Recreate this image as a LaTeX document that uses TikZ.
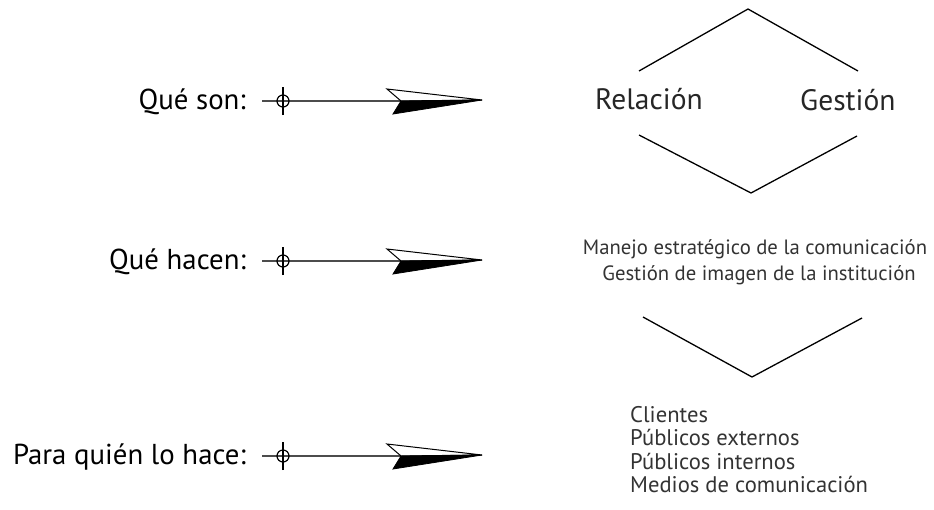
\documentclass[tikz,border=0pt]{standalone}
\usepackage{fontspec}
\setmainfont{PT Sans}
\begin{document}
\begin{tikzpicture}[x=1pt,y=-1pt,
  rowlabel/.style={font=\fontsize{28.8}{32}\selectfont, text=black, inner sep=0pt, anchor=base east},
  bigword/.style={font=\fontsize{29.5}{34}\selectfont, text=black!85, inner sep=0pt, anchor=base west},
  midtext/.style={font=\fontsize{20.7}{26}\selectfont, text=black!80, inner sep=0pt, anchor=base},
  listtext/.style={font=\fontsize{22.6}{24}\selectfont, text=black!80, inner sep=0pt, anchor=base west},
  shaft/.style={line width=2.2pt, draw=black!70},
  mark ring/.style={draw=black, line width=1.2pt},
  bracket/.style={draw=black, line width=1.3pt, line join=miter}]
\useasboundingbox (0,0) rectangle (934,509);

% row labels
\node[rowlabel] (q1) at (246,109) {Qué son:};
\node[rowlabel] (q2) at (246,269) {Qué hacen:};
\node[rowlabel] (q3) at (246,464) {Para quién lo hace:};

% arrows with a ring marker and a dart head
\foreach \r/\y in {1/101,2/261,3/456} {
  \coordinate (s\r) at (262,\y);
  \coordinate (c\r) at (283,\y);
  \coordinate (n\r) at (401,\y);
  \coordinate (t\r) at (482,\y-1);
  \coordinate (u\r) at (387,\y-12);
  \coordinate (l\r) at (393,\y+13);
  \draw[shaft] (s\r) -- (n\r);
  \draw[mark ring] (c\r) circle[radius=6pt];
  \draw[mark ring] ([yshift=-14pt]c\r) -- ([yshift=14pt]c\r);
  \filldraw[fill=white, draw=black, line width=1pt, line join=miter] (u\r) -- (t\r) -- (n\r) -- cycle;
  \filldraw[fill=black, draw=black, line width=0.8pt, line join=miter] (n\r) -- (t\r) -- (l\r) -- cycle;
}

% top group: Relación / Gestión between two chevrons
\coordinate (a1) at (639,71);
\coordinate (a2) at (748,9);
\coordinate (a3) at (858,71);
\coordinate (b1) at (639,135);
\coordinate (b2) at (751,193);
\coordinate (b3) at (857,136);
\draw[bracket] (a1) -- (a2) -- (a3);
\draw[bracket] (b1) -- (b2) -- (b3);
\node[bigword] (rel) at (595,109) {Relación};
\node[bigword] (ges) at (800,110) {Gestión};

% middle group
\node[midtext] (m1) at (755,254) {Manejo estratégico de la comunicación};
\node[midtext] (m2) at (759,280) {Gestión de imagen de la institución};

\coordinate (v1) at (643,317);
\coordinate (v2) at (752,377);
\coordinate (v3) at (862,318);
\draw[bracket] (v1) -- (v2) -- (v3);

% bottom list
\node[listtext] (p1) at (630,422) {Clientes};
\node[listtext] (p2) at (630,445) {Públicos externos};
\node[listtext] (p3) at (630,469) {Públicos internos};
\node[listtext] (p4) at (630,492) {Medios de comunicación};
\end{tikzpicture}
\end{document}
